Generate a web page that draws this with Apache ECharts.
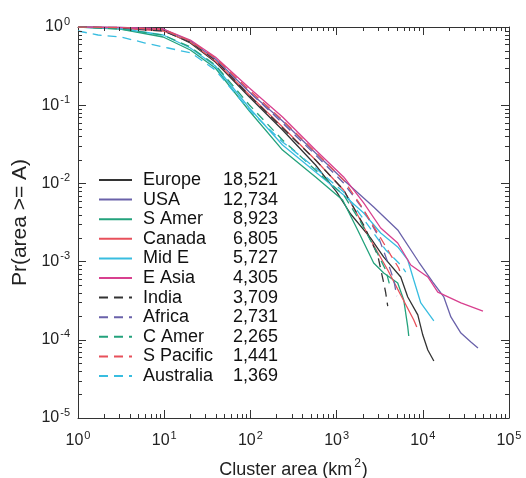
<!DOCTYPE html>
<html>
<head>
<meta charset="utf-8">
<script src="https://cdn.jsdelivr.net/npm/echarts@6/dist/echarts.min.js"></script>
<style>
html,body{margin:0;padding:0;background:#fff;}
#chart{width:526px;height:478px;}
</style>
</head>
<body>
<div id="chart"></div>
<script>
// ---- data: [cluster area km^2, Pr(area >= A)] ----
const europe = [[1,1],[3.08,0.971],[9.74,0.915],[20.1,0.624],[39.2,0.357],[97.3,0.1273],[236,0.0482],[570,0.0172],[1000,0.0078],[1455,0.00406],[2484,0.0020],[3522,0.00114],[5546,0.000636],[6691,0.000353],[8750,0.000208],[10000,0.000115],[11430,0.0000741],[13430,0.0000536]];
const usa = [[1,1],[3.08,0.985],[9.74,0.943],[20.1,0.662],[39.2,0.390],[97.3,0.1475],[236,0.0628],[570,0.0245],[1206,0.01105],[2692,0.00499],[5117,0.00254],[8980,0.000988],[13060,0.000548],[17530,0.000353],[21170,0.000196],[27680,0.000122],[36130,0.0000937],[43650,0.0000785]];
const sAmer = [[1,1],[3.08,0.943],[9.74,0.745],[20.1,0.508],[39.2,0.299],[97.3,0.0843],[236,0.0267],[570,0.01208],[1175,0.00613],[1755,0.00254],[2692,0.00096],[3522,0.000715],[5117,0.000532],[6012,0.000323],[6691,0.000146],[6874,0.000112]];
const canada = [[1,1],[3.08,0.971],[9.74,0.889],[20.1,0.643],[39.2,0.367],[97.3,0.135],[236,0.0526],[570,0.0199],[1206,0.00823],[1755,0.00394],[2484,0.00189],[3918,0.000781],[5546,0.000374],[7859,0.000179],[8511,0.000146]];
const midE = [[1,1],[3.08,0.957],[9.74,0.790],[20.1,0.539],[39.2,0.317],[97.3,0.0921],[236,0.0310],[570,0.0140],[1206,0.00711],[2061,0.00418],[3249,0.00232],[5117,0.00154],[6691,0.00105],[7859,0.000582],[9480,0.000296],[13430,0.000174]];
const eAsia = [[1,1],[3.08,0.985],[9.74,0.943],[20.1,0.682],[39.2,0.413],[97.3,0.166],[236,0.0706],[570,0.0267],[1206,0.0121],[2061,0.00562],[3249,0.00269],[5117,0.00173],[7251,0.000905],[11430,0.000636],[14930,0.000408],[27680,0.000296],[49890,0.000232]];
const india = [[1,1],[3.08,0.971],[9.74,0.889],[20.1,0.643],[39.2,0.378],[97.3,0.133],[236,0.0511],[570,0.0199],[1206,0.00823],[2061,0.00294],[2997,0.00121],[3522,0.000532],[3715,0.000397],[3918,0.000270]];
const africa = [[1,1],[3.08,0.985],[9.74,0.915],[20.1,0.662],[39.2,0.390],[97.3,0.1475],[236,0.0592],[570,0.0231],[1206,0.01012],[2061,0.00457],[2997,0.00219],[3918,0.000988],[4603,0.000582],[4989,0.000363]];
const cAmer = [[1,1],[3.08,0.943],[9.74,0.790],[20.1,0.555],[39.2,0.327],[97.3,0.1006],[236,0.0359],[570,0.0148],[1206,0.00711],[1901,0.00321],[2839,0.00141],[3715,0.000781],[4247,0.000446]];
const sPacific = [[1,1],[3.08,0.985],[9.74,0.929],[20.1,0.662],[39.2,0.401],[97.3,0.156],[236,0.0647],[570,0.0252],[1206,0.01105],[1901,0.00529],[2997,0.00232],[4247,0.00121],[5257,0.000829],[5546,0.000694]];
const australia = [[1,0.889],[1.71,0.790],[3.16,0.745],[6.01,0.624],[11.1,0.539],[20.6,0.465],[39.2,0.282],[97.3,0.0868],[236,0.0338],[570,0.0157],[1206,0.00776],[2174,0.00321],[3715,0.00141],[5546,0.000905],[6341,0.000736]];

const regionNames = ['Europe','USA','S Amer','Canada','Mid E','E Asia','India','Africa','C Amer','S Pacific','Australia'];
const regionCounts = ['18,521','12,734','8,923','6,805','5,727','4,305','3,709','2,731','2,265','1,441','1,369'];
const regionData = [europe, usa, sAmer, canada, midE, eAsia, india, africa, cAmer, sPacific, australia];
const regionColors = ['#333333','#6a62aa','#23a27c','#e8505b','#38bde0','#d8408f','#333333','#6a62aa','#23a27c','#e8505b','#38bde0'];
const regionDashed = [false,false,false,false,false,false,true,true,true,true,true];

// axis ranges
const xMin = 1, xMax = 100000;
const yMin = 0.00001, yMax = 1;

const countMap = {};
regionNames.forEach((n, i) => countMap[n] = regionCounts[i]);

const FONT = 'Liberation Sans, Arial, sans-serif';
const chart = echarts.init(document.getElementById('chart'), null, {renderer: 'canvas'});

function powLabel(v) {
  const e = Math.round(Math.log10(v));
  return '{b|10}{s|' + e + '}';
}
const labelRich = {
  b: {fontSize: 16, fontFamily: FONT, color: '#222'},
  s: {fontSize: 11, fontFamily: FONT, color: '#222', padding: [0, 0, 11, 1]}
};

const series = regionData.map((d, i) => ({
  name: regionNames[i],
  type: 'line',
  data: d,
  showSymbol: false,
  symbol: 'none',
  xAxisIndex: 0, yAxisIndex: 0,
  lineStyle: {color: regionColors[i], width: 1.3, type: regionDashed[i] ? [9, 6] : 'solid'},
  itemStyle: {color: regionColors[i]},
  emphasis: {disabled: true},
  z: 3
}));

const axisLineStyle = {show: true, lineStyle: {color: '#333', width: 1}};
const majorTick = {show: true, inside: true, length: 8, lineStyle: {color: '#333'}};
const option = {
  animation: false,
  backgroundColor: '#fff',
  grid: {left: 78, right: 17, top: 27, bottom: 60, containLabel: false, outerBoundsMode: 'none'},
  legend: {
    show: true,
    data: regionNames,
    orient: 'vertical',
    left: 98,
    top: 171,
    padding: 0,
    itemWidth: 33,
    itemHeight: 14,
    itemGap: 1.6,
    selectedMode: false,
    itemStyle: {opacity: 0},
    formatter: function (name) { return '{n|' + name + '}{c|' + countMap[name] + '}'; },
    textStyle: {
      fontFamily: FONT, fontSize: 18, color: '#111',
      rich: {
        n: {fontFamily: FONT, fontSize: 18, color: '#111', width: 75, padding: [0, 0, 0, 6]},
        c: {fontFamily: FONT, fontSize: 18, color: '#111', width: 60, align: 'right'}
      }
    }
  },
  xAxis: [{
    type: 'log', logBase: 10, min: xMin, max: xMax,
    position: 'bottom',
    axisLine: axisLineStyle,
    axisTick: majorTick,
    axisLabel: {show: true, formatter: powLabel, rich: labelRich, margin: 12, showMinLabel: true, showMaxLabel: true},
    splitLine: {show: false},
    name: '{a|Cluster area (km}{s|2}{a|)}',
    nameLocation: 'middle',
    nameGap: 40,
    nameTextStyle: {
      rich: {
        a: {fontSize: 18, fontFamily: FONT, color: '#222'},
        s: {fontSize: 12, fontFamily: FONT, color: '#222', padding: [0, 1, 12, 2]}
      }
    }
  }, {
    type: 'log', logBase: 10, min: xMin, max: xMax,
    position: 'top',
    axisLine: axisLineStyle,
    axisTick: majorTick,
    axisLabel: {show: false},
    splitLine: {show: false}
  }],
  yAxis: [{
    type: 'log', logBase: 10, min: yMin, max: yMax,
    position: 'left',
    axisLine: axisLineStyle,
    axisTick: majorTick,
    axisLabel: {show: true, formatter: powLabel, rich: labelRich, margin: 8, showMinLabel: true, showMaxLabel: true},
    splitLine: {show: false},
    name: 'Pr(area >= A)',
    nameLocation: 'middle',
    nameGap: 47,
    nameTextStyle: {fontSize: 21, fontFamily: FONT, color: '#222'}
  }, {
    type: 'log', logBase: 10, min: yMin, max: yMax,
    position: 'right',
    axisLine: axisLineStyle,
    axisTick: majorTick,
    axisLabel: {show: false},
    splitLine: {show: false}
  }],
  series: series
};
chart.setOption(option);

// minor log ticks (2..9 x 10^k) placed through the axes' own scales
const xL = chart.convertToPixel({xAxisIndex: 0}, xMin);
const xR = chart.convertToPixel({xAxisIndex: 0}, xMax);
const yT = chart.convertToPixel({yAxisIndex: 0}, yMax);
const yB = chart.convertToPixel({yAxisIndex: 0}, yMin);
const tickEls = [];
const st = {stroke: '#333', lineWidth: 1};
for (let k = 0; k < 5; k++) {
  for (let m = 2; m <= 9; m++) {
    const px = Math.round(chart.convertToPixel({xAxisIndex: 0}, m * Math.pow(10, k))) + 0.5;
    tickEls.push({type: 'line', silent: true, z: 10, shape: {x1: px, y1: yB, x2: px, y2: yB - 4}, style: st});
    tickEls.push({type: 'line', silent: true, z: 10, shape: {x1: px, y1: yT, x2: px, y2: yT + 4}, style: st});
  }
}
for (let k = -5; k < 0; k++) {
  for (let m = 2; m <= 9; m++) {
    const py = Math.round(chart.convertToPixel({yAxisIndex: 0}, m * Math.pow(10, k))) + 0.5;
    tickEls.push({type: 'line', silent: true, z: 10, shape: {x1: xL, y1: py, x2: xL + 4, y2: py}, style: st});
    tickEls.push({type: 'line', silent: true, z: 10, shape: {x1: xR, y1: py, x2: xR - 4, y2: py}, style: st});
  }
}
chart.setOption({graphic: tickEls});
</script>
</body>
</html>
